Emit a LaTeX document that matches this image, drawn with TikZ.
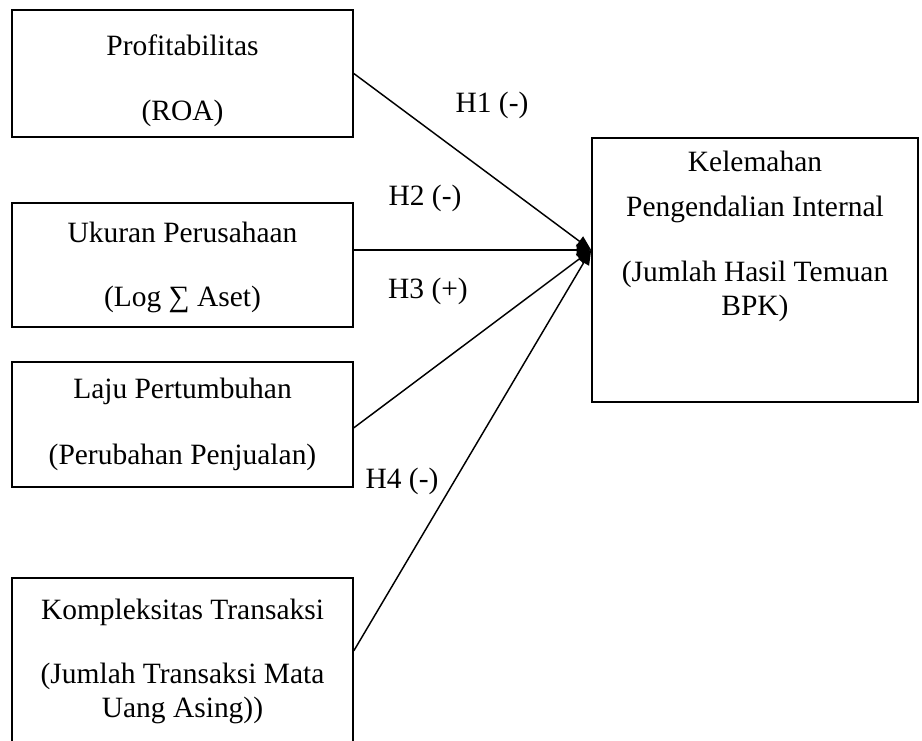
\documentclass[tikz,border=0pt]{standalone}
\usepackage{fontspec}
\setmainfont{Liberation Serif}
\usetikzlibrary{arrows.meta}

\begin{document}
\begin{tikzpicture}[x=0.75pt,y=-0.75pt,
		font=\fontsize{22.1}{25}\selectfont,
		varbox/.style={draw,line width=1.2pt,minimum width=255.75pt,align=center,inner sep=0pt},
		hyp/.style={anchor=base},
		panah/.style={line width=1.1pt,-{Triangle[length=11pt,width=9pt]}}]
			\clip (0,0) rectangle (922,740);
			% variabel independen
			\node[varbox,minimum height=95.25pt] (roa) at (182.5,73.5) {\rule{0pt}{26pt}Profitabilitas\\[23.5pt](ROA)};
			\node[varbox,minimum height=93pt] (ukuran) at (182.5,265) {\rule{0pt}{19pt}Ukuran Perusahaan\\[23.5pt](Log ∑ Aset)};
			\node[varbox,minimum height=93.75pt] (laju) at (182.5,424.5) {Laju Pertumbuhan\\[24pt](Perubahan Penjualan)};
			\node[varbox,minimum height=125.25pt] (komp) at (182.5,661.5) {Kompleksitas Transaksi\\[23pt](Jumlah Transaksi Mata\\Uang Asing))};
			% variabel dependen
			\node[draw,line width=1.2pt,minimum width=244.5pt,minimum height=198pt] (kpi) at (755,270) {};
			\node[anchor=north,align=center,inner sep=0pt] (kpitxt) at ([yshift=-10.5pt]kpi.north) {Kelemahan\\[8.75pt]Pengendalian Internal\\[23.75pt](Jumlah Hasil Temuan\\BPK)};
			\coordinate (tip) at ([yshift=15pt]kpi.west);
			\draw[panah] (roa.east) -- (tip);
			\draw[panah] (ukuran.east |- tip) -- (tip);
			\draw[panah] ([yshift=-2.5pt]laju.east) -- (tip);
			\draw[panah] ([yshift=8pt]komp.east) -- (tip);
			\node[hyp] (h1) at (492,112) {H1 (-)};
			\node[hyp] (h2) at (425,205) {H2 (-)};
			\node[hyp] (h3) at (428,298) {H3 (+)};
			\node[hyp] (h4) at (402,488) {H4 (-)};
		\end{tikzpicture}
\end{document}
